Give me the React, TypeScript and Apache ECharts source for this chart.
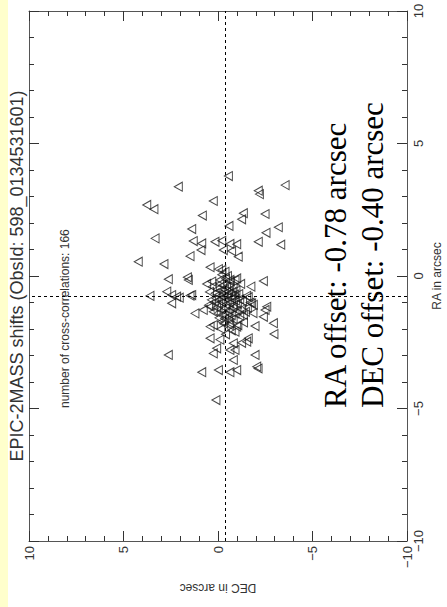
import React, { useEffect, useRef } from "react";
import * as echarts from "echarts";

// DEC shift (arcsec) of each cross-correlation
const decValues: number[] = [
  -0.55, 2.10, -3.55, -2.13, -2.19, 3.77, 3.39, 0.25, 0.83, -1.34,
  -1.25, -2.49, 1.39, -0.58, -3.19, -2.54, 3.33, 1.31, 0.86, 0.90,
  0.16, -0.20, -0.63, -0.99, -0.28, -0.72, -1.07, -2.13, -3.32, 1.48,
  4.22, 2.86, 0.42, -0.02, -0.20, -0.37, 2.63, 1.62, 1.57, 0.33,
  -0.99, -0.63, -2.40, 2.71, 2.45, 3.60, 2.19, 2.05, 1.48, 1.39,
  2.45, -1.52, -1.87, -1.78, -2.58, -2.49, 1.22, 0.78, 0.42, -1.34,
  -2.40, -2.93, 0.42, 0.25, -0.20, -0.63, -0.99, -0.90, -1.96, -2.96,
  0.42, -0.81, -1.25, -1.60, -1.52, 0.07, -0.63, -0.90, 2.63, 0.25,
  -1.96, -0.81, -2.05, -2.12, 0.86, -0.02, -0.63, -0.99, 0.11,
  -0.10, -0.25, -0.45, -0.60, -0.80,
  0.05, -0.15, -0.35, -0.55, -0.75, -0.95,
  0.15, -0.05, -0.28, -0.48, -0.68, -0.88, -1.10,
  0.10, -0.12, -0.32, -0.52, -0.72, -0.92, -1.15,
  0.20, -0.02, -0.22, -0.42, -0.62, -0.82, -1.02,
  0.08, -0.15, -0.38, -0.58, -0.78, -1.00, -1.25,
  0.00, -0.25, -0.48, -0.70, -0.90, -1.15,
  -0.10, -0.40, -0.65, 0.30, 0.35, -1.30, -1.74,
  -1.20, 0.25, -0.35, -0.55, -0.05, -0.80,
  -1.55, -1.45, -1.60, 0.45, 0.50, -0.20, -0.50,
  -0.30, -0.60, -0.15, -0.40, -0.10, -0.70,
  -1.70, -1.85, -1.35, 0.60, -0.90, -1.05,
];

// RA shift (arcsec) of each cross-correlation
const raValues: number[] = [
  3.77, 3.37, 3.43, 3.22, 3.09, 2.68, 2.52, 2.83, 2.28, 2.37,
  2.14, 2.34, 1.77, 1.89, 1.84, 1.63, 1.42, 1.32, 1.23, 0.98,
  1.29, 1.33, 1.21, 1.20, 0.98, 0.94, 0.73, 1.29, 1.18, 0.75,
  0.54, 0.45, 0.33, 0.26, 0.23, 0.16, -0.12, -0.05, -0.15, -0.21,
  -0.09, -0.15, -0.19, -0.59, -0.72, -0.75, -0.78, -0.82, -0.74, -0.72,
  -1.03, -0.75, -1.09, -1.03, -1.16, -1.28, -1.41, -1.28, -1.16, -1.47,
  -1.54, -1.78, -1.91, -1.85, -1.72, -1.78, -1.91, -2.10, -1.89, -2.19,
  -2.35, -2.54, -2.52, -2.35, -2.48, -2.73, -2.79, -2.79, -2.98, -2.92,
  -2.98, -3.17, -3.42, -3.49, -3.63, -3.55, -3.63, -3.55, -4.68,
  -0.30, -0.35, -0.40, -0.38, -0.45,
  -0.50, -0.55, -0.52, -0.58, -0.60, -0.55,
  -0.65, -0.70, -0.68, -0.72, -0.75, -0.70, -0.68,
  -0.85, -0.88, -0.82, -0.90, -0.86, -0.92, -0.88,
  -1.00, -1.05, -1.00, -1.08, -1.02, -1.10, -1.05,
  -1.20, -1.25, -1.22, -1.28, -1.20, -1.30, -1.25,
  -1.40, -1.45, -1.38, -1.48, -1.42, -1.50,
  -0.15, -0.10, -0.20, -0.40, -0.90, -0.95, -0.40,
  -0.30, -1.35, -1.60, -1.65, -1.58, -1.62,
  -1.20, -1.35, -0.80, -0.60, -1.10, 0.05, 0.00,
  -1.80, -1.85, -2.00, -2.20, -2.40, -2.05,
  -1.00, -1.40, -1.75, -0.30, -0.15, -1.85,
];

const raOffset = -0.78;
const decOffset = -0.4;
const axisMin = -10;
const axisMax = 10;
const axisStep = 5;

const titleText = "EPIC-2MASS shifts (ObsId: 598_0134531601)";
const countText = "number of cross-correlations: " + decValues.length;
const raOffsetText = "RA offset: " + raOffset.toFixed(2) + " arcsec";
const decOffsetText = "DEC offset: " + decOffset.toFixed(2) + " arcsec";
const raAxisName = "RA in arcsec";
const decAxisName = "DEC in arcsec";

const fmt = (v: number) => (v < 0 ? "\u2212" + Math.abs(v) : String(v));

const SANS = "Liberation Sans";

function baseAxis(showLabel: boolean, position: string) {
  return {
    type: "value",
    position,
    min: axisMin,
    max: axisMax,
    interval: axisStep,
    axisLine: { show: true, onZero: false, lineStyle: { color: "#555", width: 1 } },
    axisTick: { show: true, inside: true, length: 10, lineStyle: { color: "#333", width: 1 } },
    minorTick: { show: true, splitNumber: 5, length: 5, lineStyle: { color: "#333", width: 1 } },
    splitLine: { show: false },
    minorSplitLine: { show: false },
    axisLabel: {
      show: showLabel,
      rotate: 90,
      fontSize: 13,
      fontFamily: SANS,
      color: "#333",
      margin: 5,
      formatter: fmt,
    },
  };
}

export default function App() {
  const ref = useRef<HTMLDivElement>(null);

  useEffect(() => {
    if (!ref.current) return;
    const chart = echarts.init(ref.current, null, { renderer: "svg" });
    const points = decValues.map((d, i) => [d, raValues[i]]);

    const option: any = {
      animation: false,
      backgroundColor: "#ffffff",
      grid: { left: 29, top: 11, width: 378, height: 530 },
      xAxis: [
        { ...baseAxis(true, "bottom"), inverse: true },
        { ...baseAxis(false, "top"), inverse: true },
      ],
      yAxis: [baseAxis(true, "right"), baseAxis(false, "left")],
      series: [
        {
          type: "scatter",
          xAxisIndex: 0,
          yAxisIndex: 0,
          data: points,
          symbol: "triangle",
          symbolRotate: 90,
          symbolSize: [9, 8],
          itemStyle: { color: "rgba(0,0,0,0)", borderColor: "#1a1a1a", borderWidth: 1 },
          emphasis: { disabled: true },
          markLine: {
            silent: true,
            symbol: ["none", "none"],
            label: { show: false },
            lineStyle: { color: "#000", width: 1, type: [3, 3] },
            data: [{ xAxis: decOffset }, { yAxis: raOffset }],
          },
        },
      ],
      graphic: [
        { type: "rect", shape: { x: 0, y: 0, width: 8, height: 607 }, style: { fill: "#FFFFCC" } },
        {
          type: "text",
          x: 16.5,
          y: 276,
          rotation: Math.PI / 2,
          style: { text: titleText, font: `18px "${SANS}"`, fill: "#333", align: "center", verticalAlign: "middle" },
        },
        {
          type: "text",
          x: 65,
          y: 408,
          rotation: Math.PI / 2,
          style: { text: countText, font: `12px "${SANS}"`, fill: "#333", align: "left", verticalAlign: "middle" },
        },
        {
          type: "text",
          x: 335,
          y: 408,
          rotation: Math.PI / 2,
          style: { text: raOffsetText, font: `31px "Liberation Serif"`, fill: "#000", align: "left", verticalAlign: "middle" },
        },
        {
          type: "text",
          x: 372,
          y: 408,
          rotation: Math.PI / 2,
          style: { text: decOffsetText, font: `31px "Liberation Serif"`, fill: "#000", align: "left", verticalAlign: "middle" },
        },
        {
          type: "text",
          x: 437,
          y: 276,
          rotation: Math.PI / 2,
          style: { text: raAxisName, font: `12px "${SANS}"`, fill: "#333", align: "center", verticalAlign: "middle" },
        },
        {
          type: "text",
          x: 218,
          y: 588,
          rotation: Math.PI,
          style: { text: decAxisName, font: `12px "${SANS}"`, fill: "#333", align: "center", verticalAlign: "middle" },
        },
      ],
    };
    chart.setOption(option);
    return () => chart.dispose();
  }, []);

  return (
    <div
      ref={ref}
      style={{ position: "fixed", left: 0, top: 0, width: 447, height: 607, background: "#fff" }}
    />
  );
}
